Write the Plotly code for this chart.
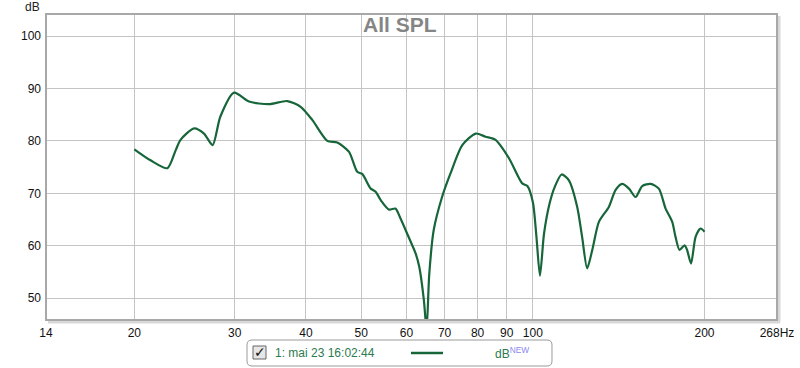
import math
import plotly.graph_objects as go

# ---- data ----
freq_hz = [20, 21.35, 22.86, 23.63, 24.1, 25.46, 26.5, 27.44, 28.3, 29.92,
           31.78, 34.45, 37.09, 39.15, 41.03, 43.6, 45.4, 47.6, 49.2, 50.2,
           51.95, 53.0, 54.1, 55.95, 57.4, 58.6, 60.2, 62.3, 63.2, 64.4,
           65.1, 65.8, 67.0, 69.3, 71.7, 75.2, 79.4, 82.6, 86.0, 90.8,
           95.8, 97.8, 100, 101.4, 102.9, 104.6, 107.0, 109.2, 112.3, 115.6,
           119.6, 122.0, 124.5, 127.1, 130.6, 135.9, 139.6, 143.4, 147.4, 151.4,
           155.5, 160.9, 166.3, 170.9, 175.5, 177.9, 180.8, 184.5, 186.4, 189.4,
           192.9, 196.8, 200]
spl_db = [78.4, 76.3, 74.8, 78.2, 80.2, 82.4, 81.4, 79.2, 84.6, 89.2,
          87.5, 87.0, 87.6, 86.5, 84.0, 80.0, 79.7, 77.9, 74.1, 73.7,
          70.9, 70.3, 68.7, 66.9, 67.1, 65.2, 62.3, 58.5, 56.0, 49.6,
          44.0, 54.5, 63.0, 69.3, 73.8, 79.2, 81.4, 80.8, 80.2, 76.7,
          71.9, 71.4, 68.3, 62.0, 54.3, 62.3, 68.1, 71.2, 73.6, 72.5,
          67.4, 61.7, 55.7, 59.2, 64.6, 67.4, 70.6, 71.8, 70.9, 69.3,
          71.4, 71.8, 70.9, 67.1, 64.6, 61.7, 59.2, 60.1, 59.2, 56.6,
          61.7, 63.3, 62.7]

x_tick_vals = [14, 20, 30, 40, 50, 60, 70, 80, 90, 100, 200, 268]
x_tick_text = ["14", "20", "30", "40", "50", "60", "70", "80", "90", "100", "200", "268Hz"]
y_tick_vals = [50, 60, 70, 80, 90, 100]

title_text = "All SPL"
legend_label = "1: mai 23 16:02:44"

LINE = "#16663a"
GRID = "#c4c4c4"
FONT = "Liberation Sans, Arial, sans-serif"

W, H = 800, 368
L, R, T, B = 46, 23, 14, 48
PW, PH = W - L - R, H - T - B


def px(xp):
    return (xp - L) / PW


def py(yp):
    return (H - B - yp) / PH


fig = go.Figure()
fig.add_trace(go.Scatter(
    x=freq_hz, y=spl_db, mode="lines",
    line=dict(color=LINE, width=2.2, shape="spline", smoothing=0.7),
    showlegend=False, hoverinfo="skip"))

shapes = []
# darker 100 Hz line
shapes.append(dict(type="line", xref="x", yref="paper", x0=math.log10(100), x1=math.log10(100),
                   y0=0, y1=1, line=dict(color="#7a7a7a", width=1)))
# frame shadow
shapes.append(dict(type="line", xref="paper", yref="paper", x0=px(779), x1=px(779),
                   y0=py(322), y1=py(16), line=dict(color="#d8d8d8", width=3)))
shapes.append(dict(type="line", xref="paper", yref="paper", x0=px(48), x1=px(780),
                   y0=py(322), y1=py(322), line=dict(color="#d8d8d8", width=3)))
# frame
shapes.append(dict(type="rect", xref="paper", yref="paper", x0=0, x1=1, y0=0, y1=1,
                   line=dict(color="#a8a8a8", width=2)))

# legend box (rounded)
bx0, bx1, by0, by1, r = 247, 552, 340, 366, 5
def P(a, b):
    return f"{px(a):.5f},{py(b):.5f}"
path = (f"M {P(bx0 + r, by0)} L {P(bx1 - r, by0)} Q {P(bx1, by0)} {P(bx1, by0 + r)} "
        f"L {P(bx1, by1 - r)} Q {P(bx1, by1)} {P(bx1 - r, by1)} "
        f"L {P(bx0 + r, by1)} Q {P(bx0, by1)} {P(bx0, by1 - r)} "
        f"L {P(bx0, by0 + r)} Q {P(bx0, by0)} {P(bx0 + r, by0)} Z")
shapes.append(dict(type="path", xref="paper", yref="paper", path=path,
                   line=dict(color="#9a9a9a", width=1), fillcolor="white"))
# checkbox
shapes.append(dict(type="rect", xref="paper", yref="paper", x0=px(253), x1=px(266),
                   y0=py(359), y1=py(346), line=dict(color="#666666", width=1),
                   fillcolor="#e6e6e6"))
# legend line sample
shapes.append(dict(type="line", xref="paper", yref="paper", x0=px(411), x1=px(443),
                   y0=py(353), y1=py(353), line=dict(color=LINE, width=2.5)))

annotations = [
    dict(text=f"<b>{title_text}</b>", xref="paper", yref="paper", x=px(400), y=py(25),
         showarrow=False, font=dict(family=FONT, size=21, color="#858585"),
         xanchor="center", yanchor="middle"),
    dict(text="dB", xref="paper", yref="paper", x=px(32), y=py(7),
         showarrow=False, font=dict(family=FONT, size=12, color="#222222"),
         xanchor="center", yanchor="middle"),
    dict(text="✓", xref="paper", yref="paper", x=px(259.5), y=py(352),
         showarrow=False, font=dict(family="DejaVu Sans", size=14, color="#111111"),
         xanchor="center", yanchor="middle"),
    dict(text=legend_label, xref="paper", yref="paper", x=px(273), y=py(353),
         showarrow=False, font=dict(family=FONT, size=12, color="#2d7a4f"),
         xanchor="left", yanchor="middle"),
    dict(text="dB<sup><span style='color:#8a8aee'>NEW</span></sup>", xref="paper", yref="paper",
         x=px(493), y=py(353), showarrow=False,
         font=dict(family=FONT, size=12, color="#2d7a4f"),
         xanchor="left", yanchor="middle"),
]

fig.update_layout(
    width=W, height=H,
    margin=dict(l=L, r=R, t=T, b=B, pad=0, autoexpand=False),
    paper_bgcolor="white", plot_bgcolor="white",
    shapes=shapes, annotations=annotations,
    font=dict(family=FONT, size=12, color="#111111"),
    xaxis=dict(type="log", range=[math.log10(14), math.log10(268)],
               tickvals=x_tick_vals, ticktext=x_tick_text, automargin=False,
               showgrid=True, gridcolor=GRID, gridwidth=1,
               zeroline=False, showline=False, ticks="", ticklabelstandoff=4,
               tickfont=dict(family=FONT, size=12, color="#111111")),
    yaxis=dict(range=[45.85, 104.2], tickvals=y_tick_vals, automargin=False,
               showgrid=True, gridcolor=GRID, gridwidth=1,
               zeroline=False, showline=False, ticks="", ticklabelstandoff=4,
               tickfont=dict(family=FONT, size=12, color="#111111")),
)

fig.write_html("out.html", config={"displayModeBar": False},
               post_script="document.body.style.margin='0';document.body.style.overflow='hidden';")
